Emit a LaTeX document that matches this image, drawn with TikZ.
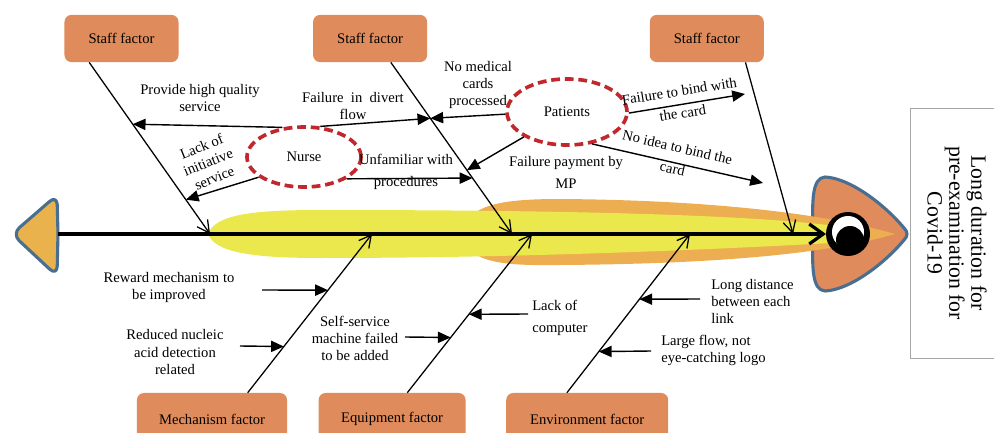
\documentclass[tikz,border=0pt]{standalone}
\usepackage{fontspec}
\setmainfont{Liberation Serif}
\usetikzlibrary{calc, positioning, arrows.meta, shapes.geometric}

\definecolor{factor_fill}{RGB}{224,139,91}
\definecolor{tail_fill}{RGB}{233,178,77}
\definecolor{fin_blue}{RGB}{72,110,146}
\definecolor{band_yellow}{RGB}{234,232,76}
\definecolor{band_orange}{RGB}{236,174,80}
\definecolor{ellipse_red}{RGB}{192,40,45}

\tikzset{
    factor_node/.style={rectangle, rounded corners=5pt, fill=factor_fill, minimum height=1.18cm, text centered, align=center, font=\fontsize{10.4}{12.1}\selectfont},
    low_factor/.style={factor_node, minimum height=1.3cm},
    cause_text/.style={text centered, align=center, inner sep=0pt, font=\fontsize{10.4}{12.1}\selectfont},
    wide_text/.style={cause_text, font=\fontsize{10.4}{15.6}\selectfont},
    left_text/.style={cause_text, align=left, anchor=west},
    t_ellipse/.style={ellipse, draw=ellipse_red, line width=2.6pt, dash pattern=on 2.2mm off 1.2mm, inner sep=0pt, text centered, font=\fontsize{10.4}{12.1}\selectfont},
    bone/.style={line width=0.9pt, -{Straight Barb[length=3mm,width=3.2mm]}},
    sub_arrow/.style={line width=1pt, -{Triangle[length=3.2mm,width=2.8mm]}},
    spine/.style={line width=2.3pt, -{Straight Barb[length=3.5mm,width=5mm]}},
    fish_edge/.style={draw=fin_blue, line width=2.2pt, line join=round},
    effect_box/.style={rectangle, draw=gray!70, line width=0.6pt, minimum width=6.25cm, minimum height=2.35cm, text centered, align=center, font=\fontsize{15.5}{15.6}\selectfont},
}

\begin{document}
\begin{tikzpicture}[x=0.025cm, y=-0.025cm, node distance=0cm]
    \useasboundingbox (0,0) rectangle (994,433);
    \clip (0,0) rectangle (994,433);

    %%%%%%%%%%%%%
    % FISH BODY %
    %%%%%%%%%%%%%
    \draw[fish_edge, fill=factor_fill] (813,234) .. controls (812,200) and (812,178) .. (825,177)
        .. controls (850,178) and (885,205) .. (904,228) .. controls (908,232) and (908,236) .. (904,240)
        .. controls (885,263) and (850,290) .. (825,291) .. controls (812,290) and (812,268) .. cycle;
    \fill[band_orange] (465,234) .. controls (465,205) and (500,199) .. (560,199)
        .. controls (700,200) and (820,212) .. (895,234)
        .. controls (820,256) and (700,264) .. (560,265)
        .. controls (500,266) and (465,262) .. cycle;
    \fill[band_yellow] (208,234) .. controls (215,215) and (250,210) .. (320,210)
        .. controls (550,210) and (760,214) .. (850,228) -- (850,242)
        .. controls (760,247) and (550,258) .. (320,258)
        .. controls (250,258) and (215,252) .. cycle;
    \draw[fish_edge, fill=tail_fill, rounded corners=7] (58,234) -- (57,195) -- (12,234) -- (57,276) -- cycle;

    \coordinate (tail_end) at (58,234);
    \coordinate (spine_tip) at (826,234);
    \draw[spine] (tail_end) -- (spine_tip);

    % eye
    \fill[black] (848,234) circle (22);
    \fill[white] (848,232) circle (16);
    \fill[black] (850,240) circle (14);

    %%%%%%%%%%%
    % FACTORS %
    %%%%%%%%%%%
    \node (staff_a) [factor_node, minimum width=2.85cm] at (121.5,38.5)
        {Staff factor};
    \node (staff_b) [factor_node, minimum width=2.85cm, right = 3.35cm of staff_a]
        {Staff factor};
    \node (staff_c) [factor_node, minimum width=2.85cm, right = 5.55cm of staff_b]
        {Staff factor};
    \node (mechanism) [low_factor, minimum width=3.75cm] at (212,419)
        {Mechanism factor};
    \node (equipment) [low_factor, minimum width=3.675cm, right = 0.775cm of mechanism]
        {Equipment factor};
    \node (environment) [low_factor, minimum width=4.05cm, right = 1.0cm of equipment]
        {Environment factor};

    \node (effect) [effect_box, rotate=-90] at (957,233)
        {Long duration for\\pre-examination for\\Covid-19};

    %%%%%%%%%
    % BONES %
    %%%%%%%%%
    \coordinate (b1e) at (210,234);
    \coordinate (b2e) at (512,234);
    \coordinate (b3e) at (793,234);
    \coordinate (b4e) at (372,234);
    \coordinate (b5e) at (532,234);
    \coordinate (b6e) at (690,234);
    \coordinate (b1s) at ($(staff_a.south west)+(25,0)$);
    \coordinate (b2s) at ($(staff_b.south west)+(78,0)$);
    \coordinate (b3s) at ($(staff_c.south west)+(96,0)$);
    \coordinate (b4s) at ($(mechanism.north west)+(111,0)$);
    \coordinate (b5s) at ($(equipment.north west)+(89,0)$);
    \coordinate (b6s) at ($(environment.north west)+(61,0)$);
    \foreach \b in {1,...,6}
        \draw[bone] (b\b s) -- (b\b e);

    %%%%%%%%%%%%%%%%%%%%
    % NURSE, PATIENTS %
    %%%%%%%%%%%%%%%%%%%%
    \node (nurse) [t_ellipse, minimum width=2.85cm, minimum height=1.5cm] at (304,157)
        {Nurse};
    \node (patients) [t_ellipse, minimum width=3cm, minimum height=1.65cm] at (567,112)
        {Patients};

    \draw[sub_arrow] (nurse.126) -- ($(b1s)!0.36!(b1e)$);
    \draw[sub_arrow] (nurse.62) -- ($(b2s)!0.326!(b2e)$);
    \draw[sub_arrow] (nurse.204) -- ($(b1s)!0.80!(b1e)$);
    \draw[sub_arrow] (nurse.333) -- ($(b2s)!0.674!(b2e)$);
    \draw[sub_arrow] (patients.182) -- ($(b2s)!0.326!(b2e)$);
    \draw[sub_arrow] (patients.210) -- ($(b2s)!0.628!(b2e)$);

    \coordinate (bind_end) at (745,94);
    \coordinate (idea_end) at (763,183);
    \draw[sub_arrow] (patients.359) -- (bind_end);
    \draw[sub_arrow] (patients.308) -- (idea_end);

    \node (provide) [cause_text] at (200,98)
        {Provide high quality\\service};
    \node (divert) [cause_text] at (353,106)
        {Failure\ \ in\ \ divert\\flow};
    \node (no_medical) [cause_text] at (478,85)
        {No medical\\cards\\processed};
    \node (initiative) [cause_text, rotate=22] at (208,162)
        {Lack of\\initiative\\service};
    \node (unfamiliar) [wide_text] at (406,172)
        {Unfamiliar with\\procedures};
    \node (payment) [wide_text] at (566,172)
        {Failure payment by\\MP};
    \node (bind_with) [wide_text, rotate=9] at (681,102)
        {Failure to bind with\\the card};
    \node (no_idea) [wide_text, rotate=-13] at (675,158)
        {No idea to bind the\\card};

    %%%%%%%%%%%%%%%%%%%%%
    % LOWER SUB CAUSES %
    %%%%%%%%%%%%%%%%%%%%%
    \coordinate (reward_start) at (262,290);
    \coordinate (nucleic_start) at (240,346);
    \coordinate (self_start) at (405,337);
    \coordinate (computer_start) at (528,314);
    \coordinate (distance_start) at (700,299);
    \coordinate (flow_start) at (651,351);
    \draw[sub_arrow] (reward_start) -- ($(b4s)!0.646!(b4e)$);
    \draw[sub_arrow] (nucleic_start) -- ($(b4s)!0.291!(b4e)$);
    \draw[sub_arrow] (self_start) -- ($(b5s)!0.348!(b5e)$);
    \draw[sub_arrow] (computer_start) -- ($(b5s)!0.494!(b5e)$);
    \draw[sub_arrow] (distance_start) -- ($(b6s)!0.589!(b6e)$);
    \draw[sub_arrow] (flow_start) -- ($(b6s)!0.259!(b6e)$);

    \node (reward) [cause_text] at (169,287)
        {Reward mechanism to\\be improved};
    \node (nucleic) [cause_text] at (175,352)
        {Reduced nucleic\\acid detection\\related};
    \node (self_service) [cause_text] at (355,338)
        {Self-service\\machine failed\\to be added};
    \node (computer) [left_text, font=\fontsize{10.4}{15.6}\selectfont] at (532,318)
        {Lack of\\computer};
    \node (distance) [left_text] at (711,301)
        {Long distance\\between each\\link};
    \node (large_flow) [left_text] at (661,350)
        {Large flow, not\\eye-catching logo};
\end{tikzpicture}
\end{document}
